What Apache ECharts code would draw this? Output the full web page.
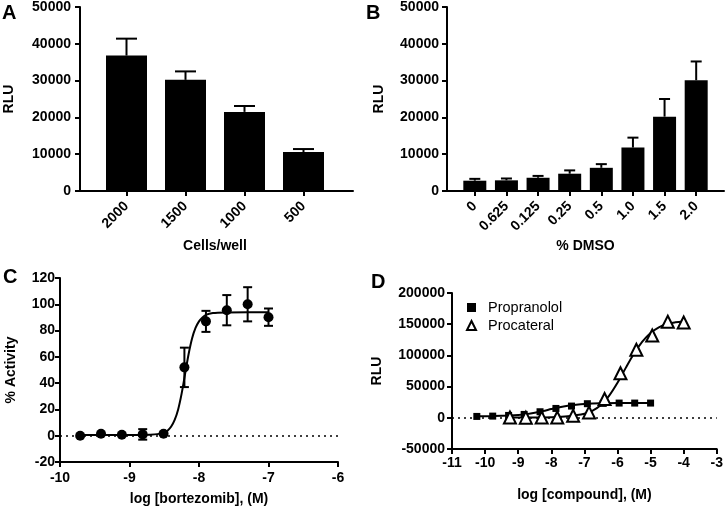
<!DOCTYPE html>
<html>
<head>
<meta charset="utf-8">
<script src="https://cdn.jsdelivr.net/npm/echarts@6/dist/echarts.min.js"></script>
<style>
html,body{margin:0;padding:0;background:#fff;}
#chart{width:726px;height:510px;}
</style>
</head>
<body>
<div id="chart"></div>
<script>
// ---- Panel A ----
const aCategories = ['2000', '1500', '1000', '500'];
const aValues = [36800, 30200, 21500, 10600];
const aErrors = [4600, 2300, 1600, 800];

// ---- Panel B ----
const bCategories = ['0', '0.625', '0.125', '0.25', '0.5', '1.0', '1.5', '2.0'];
const bValues = [2800, 2900, 3600, 4700, 6300, 11800, 20200, 30100];
const bErrors = [500, 500, 500, 900, 1000, 2700, 4800, 5100];

// ---- Panel C ----
const cLogDose = [-9.71, -9.41, -9.11, -8.81, -8.51, -8.21, -7.90, -7.60, -7.30, -7.00];
const cActivity = [0, 1.5, 0.8, 1, 1.5, 52, 87, 95.5, 100, 90.2];
const cError = [0, 0, 0, 4, 0, 15, 8, 11.5, 13, 6.6];
const cFitX = [-9.71, -9.0, -8.7, -8.6, -8.5, -8.45, -8.4, -8.35, -8.3, -8.25, -8.2, -8.15, -8.1, -8.05, -8.0, -7.95, -7.9, -7.8, -7.6, -7.3, -7.0];
const cFitY = [0.5, 0.5, 0.8, 1.2, 2.5, 4, 7, 12, 20, 32, 47, 62, 74, 82, 87, 90, 92, 93.3, 93.8, 94, 94];

// ---- Panel D ----
const dPropX = [-10.25, -9.77, -9.29, -8.82, -8.34, -7.86, -7.39, -6.91, -6.43, -5.95, -5.48, -5.00];
const dPropY = [2200, 2700, 3800, 5400, 9700, 15000, 18800, 22600, 23100, 23600, 23600, 23600];
const dProcX = [-9.25, -8.77, -8.29, -7.82, -7.34, -6.86, -6.39, -5.91, -5.43, -4.95, -4.48, -4.00];
const dProcY = [500, 200, 300, 400, 3200, 8600, 30100, 71500, 109000, 132000, 154000, 152700];
const dPropFitX = [-10.25, -9.75, -9.25, -9.0, -8.75, -8.5, -8.25, -8.0, -7.75, -7.5, -7.25, -7.0, -6.5, -6.0, -5.0];
const dPropFitY = [2400, 2800, 3700, 4500, 5900, 8000, 10800, 14000, 17000, 19300, 21000, 22200, 23300, 23700, 23900];
const dProcFitX = [-9.25, -8.5, -8.0, -7.5, -7.0, -6.75, -6.5, -6.25, -6.0, -5.75, -5.5, -5.25, -5.0, -4.75, -4.5, -4.25, -4.0];
const dProcFitY = [300, 500, 1000, 2500, 6500, 11500, 20500, 35500, 56000, 80000, 103000, 122000, 136000, 145000, 150500, 153000, 154500];

const FONT = 'Liberation Sans, Arial, sans-serif';
const lbl = {color: '#000', fontFamily: FONT, fontWeight: 'bold', fontSize: 14};
const axLine = {show: true, onZero: false, lineStyle: {color: '#000', width: 2}};
const axTick = {show: true, length: 5, lineStyle: {color: '#000', width: 2}};
const nameStyle = {color: '#000', fontFamily: FONT, fontWeight: 'bold', fontSize: 14};
const letterStyle = {fontFamily: FONT, fontWeight: 'bold', fontSize: 20, color: '#000'};

function zip(a, b, c) { return a.map((v, i) => c ? [v, b[i], c[i]] : [v, b[i]]); }

function barErr(capW) {
  return function (params, api) {
    const i = api.value(0), v = api.value(1), e = api.value(2);
    const base = api.coord([i, v]);
    const top = api.coord([i, v + e]);
    const st = {stroke: '#000', lineWidth: 2};
    return {type: 'group', children: [
      {type: 'line', shape: {x1: base[0], y1: base[1], x2: top[0], y2: top[1]}, style: st},
      {type: 'line', shape: {x1: top[0] - capW / 2, y1: top[1], x2: top[0] + capW / 2, y2: top[1]}, style: st}
    ]};
  };
}
function xyErr(capW) {
  return function (params, api) {
    const x = api.value(0), y = api.value(1), e = api.value(2);
    if (!e) return {type: 'group', children: []};
    const hi = api.coord([x, y + e]);
    const lo = api.coord([x, y - e]);
    const st = {stroke: '#000', lineWidth: 2};
    return {type: 'group', children: [
      {type: 'line', shape: {x1: hi[0], y1: hi[1], x2: lo[0], y2: lo[1]}, style: st},
      {type: 'line', shape: {x1: hi[0] - capW / 2, y1: hi[1], x2: hi[0] + capW / 2, y2: hi[1]}, style: st},
      {type: 'line', shape: {x1: lo[0] - capW / 2, y1: lo[1], x2: lo[0] + capW / 2, y2: lo[1]}, style: st}
    ]};
  };
}

const lineOnlyX = (gi) => ({type: 'value', gridIndex: gi, min: 0, max: 1, axisLine: axLine, axisTick: {show: false}, axisLabel: {show: false}, splitLine: {show: false}});
const hiddenY = (gi, mn, mx) => ({type: 'value', gridIndex: gi, min: mn, max: mx, show: false});
const catX = (gi, cats, name, gap) => ({
  type: 'category', gridIndex: gi, data: cats, boundaryGap: true,
  axisLine: {show: false}, axisTick: {show: true, alignWithLabel: true, length: 5, lineStyle: {color: '#000', width: 2}},
  axisLabel: Object.assign({rotate: 45, margin: 13, interval: 0}, lbl),
  name: name, nameLocation: 'middle', nameGap: gap, nameTextStyle: nameStyle
});
const valY = (gi, mn, mx, iv, name, gap, margin) => ({
  type: 'value', gridIndex: gi, min: mn, max: mx, interval: iv,
  axisLine: axLine, axisTick: axTick, splitLine: {show: false},
  axisLabel: Object.assign({margin: margin, formatter: v => String(v)}, lbl),
  name: name, nameLocation: 'middle', nameGap: gap, nameRotate: 90, nameTextStyle: nameStyle
});
const valX = (gi, mn, mx, iv, name, gap, margin) => ({
  type: 'value', gridIndex: gi, min: mn, max: mx, interval: iv,
  axisLine: axLine, axisTick: axTick, splitLine: {show: false},
  axisLabel: Object.assign({margin: margin, formatter: v => String(v)}, lbl),
  name: name, nameLocation: 'middle', nameGap: gap, nameTextStyle: nameStyle
});
const zeroLine = {silent: true, symbol: 'none', label: {show: false}, lineStyle: {color: '#000', type: [2, 4], width: 1.5}, data: [{yAxis: 0}]};

const option = {
  animation: false,
  backgroundColor: '#fff',
  title: [
    {text: 'A', left: 2, top: 3, padding: 0, textStyle: letterStyle},
    {text: 'B', left: 366, top: 3, padding: 0, textStyle: letterStyle},
    {text: 'C', left: 3, top: 267, padding: 0, textStyle: letterStyle},
    {text: 'D', left: 371, top: 272, padding: 0, textStyle: letterStyle}
  ],
  legend: {
    left: 466, top: 300, orient: 'vertical', itemGap: 3, itemWidth: 9, itemHeight: 9, padding: 0,
    textStyle: {fontFamily: FONT, fontSize: 14.5, color: '#000', padding: [0, 0, 0, 7]},
    data: [{name: 'Propranolol', icon: 'rect'}, {name: 'Procateral', icon: 'triangle'}]
  },
  grid: [
    {left: 80, top: 7, width: 273, height: 184},
    {left: 97, top: 7, width: 236, height: 184},
    {left: 447, top: 7, width: 277, height: 184},
    {left: 459, top: 7, width: 253, height: 184},
    {left: 60, top: 278, width: 278, height: 184},
    {left: 452, top: 293, width: 267, height: 156}
  ],
  xAxis: [
    lineOnlyX(0),
    catX(1, aCategories, 'Cells/well', 48),
    lineOnlyX(2),
    catX(3, bCategories, '% DMSO', 48),
    valX(4, -10, -6, 1, 'log [bortezomib], (M)', 30, 9),
    valX(5, -11, -3, 1, 'log [compound], (M)', 39, 7)
  ],
  yAxis: [
    valY(0, 0, 50000, 10000, 'RLU', 64, 9),
    hiddenY(1, 0, 50000),
    valY(2, 0, 50000, 10000, 'RLU', 61, 8),
    hiddenY(3, 0, 50000),
    valY(4, -20, 120, 20, '% Activity', 42, 5),
    valY(5, -50000, 200000, 50000, 'RLU', 68, 7)
  ],
  series: [
    {type: 'bar', xAxisIndex: 1, yAxisIndex: 1, data: aValues, barWidth: 41, itemStyle: {color: '#000'}},
    {type: 'custom', xAxisIndex: 1, yAxisIndex: 1, renderItem: barErr(21), data: zip([0, 1, 2, 3], aValues, aErrors), encode: {x: 0, y: 1}, z: 3},
    {type: 'bar', xAxisIndex: 3, yAxisIndex: 3, data: bValues, barWidth: 23, itemStyle: {color: '#000'}},
    {type: 'custom', xAxisIndex: 3, yAxisIndex: 3, renderItem: barErr(11), data: zip(bCategories.map((c, i) => i), bValues, bErrors), encode: {x: 0, y: 1}, z: 3},
    {type: 'line', xAxisIndex: 4, yAxisIndex: 4, data: zip(cFitX, cFitY), smooth: 0.3, symbol: 'none', lineStyle: {color: '#000', width: 2}, markLine: zeroLine},
    {type: 'custom', xAxisIndex: 4, yAxisIndex: 4, renderItem: xyErr(9), data: zip(cLogDose, cActivity, cError), encode: {x: 0, y: 1}, z: 3},
    {type: 'scatter', xAxisIndex: 4, yAxisIndex: 4, data: zip(cLogDose, cActivity), symbol: 'circle', symbolSize: 10, itemStyle: {color: '#000', opacity: 1}, z: 4},
    {type: 'line', xAxisIndex: 5, yAxisIndex: 5, data: zip(dPropFitX, dPropFitY), smooth: 0.3, symbol: 'none', lineStyle: {color: '#000', width: 2}, markLine: zeroLine},
    {type: 'line', xAxisIndex: 5, yAxisIndex: 5, data: zip(dProcFitX, dProcFitY), smooth: 0.3, symbol: 'none', lineStyle: {color: '#000', width: 2}},
    {name: 'Propranolol', type: 'scatter', xAxisIndex: 5, yAxisIndex: 5, data: zip(dPropX, dPropY), symbol: 'rect', symbolSize: 7, itemStyle: {color: '#000', opacity: 1}, z: 4},
    {name: 'Procateral', type: 'scatter', xAxisIndex: 5, yAxisIndex: 5, data: zip(dProcX, dProcY), symbol: 'triangle', symbolSize: 12, itemStyle: {color: '#fff', borderColor: '#000', borderWidth: 2, opacity: 1}, z: 5}
  ]
};

const chart = echarts.init(document.getElementById('chart'), null, {renderer: 'canvas'});
chart.setOption(option);
</script>
</body>
</html>
